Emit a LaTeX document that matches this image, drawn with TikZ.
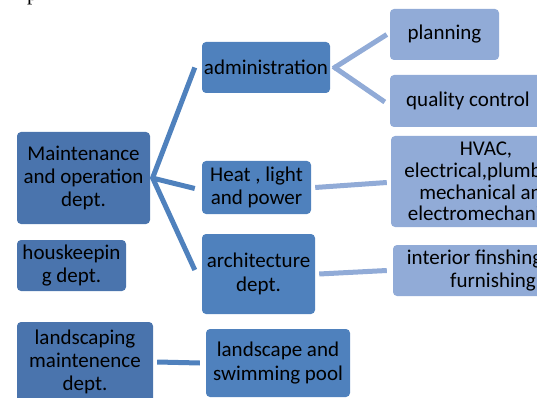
\documentclass[tikz,border=0pt]{standalone}
\usepackage{fontspec}
\setmainfont{Carlito}
\newfontfamily\serifp{Liberation Serif}
\definecolor{darkbox}{HTML}{4A74AD}
\definecolor{midbox}{HTML}{4F81BD}
\definecolor{lightbox}{HTML}{91ABD7}
\tikzset{
  box/.style={rounded corners=4pt, inner sep=0pt, align=center, text=black,
    font=\fontsize{21}{23.3}\selectfont},
  lvlone/.style={box, fill=darkbox},
  lvltwo/.style={box, fill=midbox},
  lvlthree/.style={box, fill=lightbox},
  conA/.style={draw=midbox, line width=5pt},
  conB/.style={draw=lightbox, line width=5pt},
}
\begin{document}
\begin{tikzpicture}[x=1pt,y=-1pt]
\useasboundingbox (0,0) rectangle (543,398);
\node[font=\serifp\fontsize{21}{24}\selectfont, anchor=base west, inner sep=0pt] (ptxt) at (27,1) {p};
% first column
\node[lvlone, minimum width=133pt, minimum height=92pt] (m) at (83.5,178) {Maintenance\\and operation\\dept.};
\node[lvlone, minimum width=109pt, minimum height=51pt] (hk) at (71.5,265.5) {houskeepin\\g dept.};
\node[lvlone, minimum width=136pt, minimum height=80pt] (ls) at (85,362) {landscaping\\maintenence\\dept.};
% second column
\node[lvltwo, minimum width=128pt, minimum height=51pt] (adm) at (266,67.5) {administration};
\node[lvltwo, minimum width=109pt, minimum height=53pt] (heat) at (256.5,187.5) {Heat , light\\and power};
\node[lvltwo, minimum width=113pt, minimum height=80pt] (arch) at (258.5,274) {architecture\\dept.};
\node[lvltwo, minimum width=144pt, minimum height=68pt] (lsp) at (278,363) {landscape and\\swimming pool};
% third column
\node[lvlthree, minimum width=109pt, minimum height=51pt] (plan) at (444.5,34.5) {planning};
\node[lvlthree, minimum width=156pt, minimum height=52pt] (qc) at (468,101) {quality control};
\node[lvlthree, minimum width=190pt, minimum height=91pt, font=\fontsize{21}{21.8}\selectfont] (hvac) at (486,181.5) {HVAC,\\electrical,plumbing\\mechanical and\\electromechanical};
\node[lvlthree, minimum width=200pt, minimum height=51pt] (int) at (493,270.5) {interior finshing and\\furnishing};
% connectors
\coordinate (mfan) at ([xshift=2pt]m.east);
\draw[conA] ([yshift=-1pt]mfan) -- ([xshift=-7pt]adm.west);
\draw[conA] (mfan) -- ([xshift=-7pt,yshift=-1pt]heat.west);
\draw[conA] ([yshift=1pt]mfan) -- ([xshift=-7pt,yshift=4pt]arch.west);
\coordinate (afan) at ([xshift=3pt]adm.east);
\draw[conB] ([yshift=-1pt]afan) -- ([xshift=-3pt]plan.west);
\draw[conB] ([yshift=1pt]afan) -- ([xshift=-5pt,yshift=-1pt]qc.west);
\draw[conB] ([xshift=4pt]heat.east) -- ([xshift=-4pt,yshift=-1pt]hvac.west);
\draw[conB] ([xshift=4pt]arch.east) -- ([xshift=-6pt,yshift=0pt]int.west);
\draw[conA] ([xshift=4pt]ls.east) -- ([xshift=-6pt]lsp.west);
% page edge strip
\fill[white] (537,0) rectangle (543,398);
\end{tikzpicture}
\end{document}
